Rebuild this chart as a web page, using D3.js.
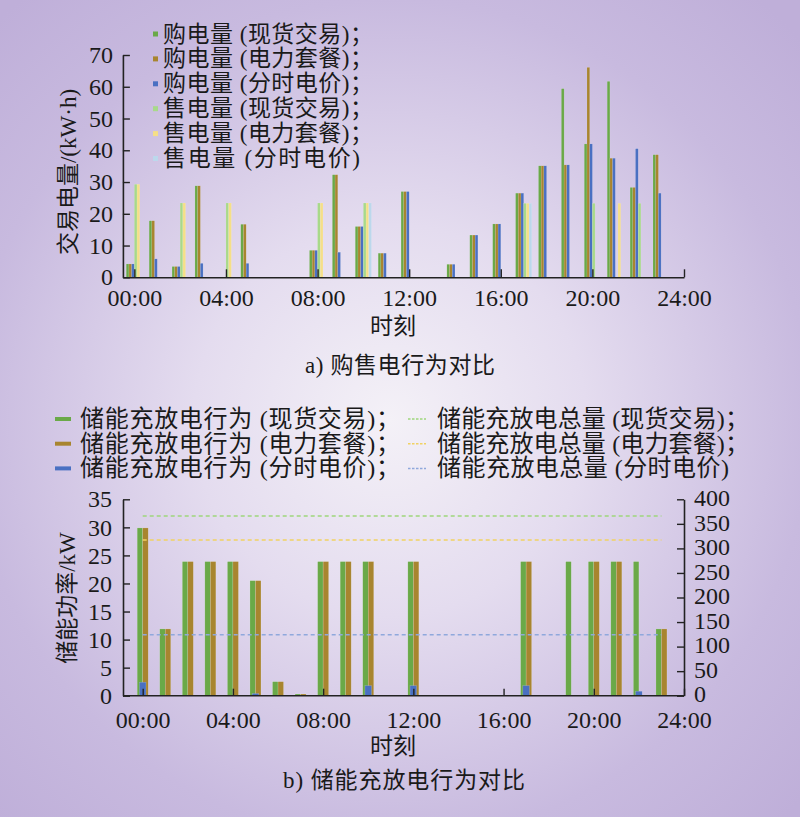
<!DOCTYPE html>
<html><head><meta charset="utf-8">
<script src="https://cdn.jsdelivr.net/npm/d3@7"></script>
<style>body{margin:0;padding:0;overflow:hidden}svg{display:block}</style>
</head><body>
<svg id="c" width="800" height="817"></svg>
<script>
const hours = d3.range(24);
const timeTicks = [0,4,8,12,16,20,24];
const timeLabels = ["00:00","04:00","08:00","12:00","16:00","20:00","24:00"];

// (a) buy / sell energy, kW·h
const buySpot = [4.2,17.8,3.4,28.8,0,16.7,0,0,8.5,32.3,16,7.6,27,0,4.1,13.3,16.8,26.5,35.1,59.4,42,61.7,28.3,38.6];
const buyPkg  = [4.2,17.8,3.4,28.8,0,16.7,0,0,8.5,32.3,16,7.6,27,0,4.1,13.3,16.8,26.5,35.1,35.4,66.1,37.5,28.3,38.6];
const buyTou  = [4.2,5.8,3.4,4.4,0,4.4,0,0,8.5,7.9,16,7.6,27,0,4.1,13.3,16.8,26.5,35.1,35.4,42,37.5,40.5,26.5];
const sellSpot= [29.3,0,23.4,0,23.4,0,0,0,23.4,0,23.4,0,0,0,0,0,0,23.3,0,0,23.3,0,23.3,0];
const sellPkg = [29.3,0,23.4,0,23.4,0,0,0,23.4,0,23.4,0,0,0,0,0,0,23.3,0,0,0,23.3,0,0];
const sellTou = [0,0,0,0,0,0,0,0,0,0,23.4,0,0,0,0,0,0,23.3,0,0,0,0,0,0];
const topNames = ["购电量 (现货交易)；","购电量 (电力套餐)；","购电量 (分时电价)；","售电量 (现货交易)；","售电量 (电力套餐)；","售电量 (分时电价)"];
const topTicks = [0,10,20,30,40,50,60,70];

// (b) storage power, kW, and totals (right axis)
const esSpot = [29.9,11.9,23.9,23.9,23.9,20.5,2.5,0.3,23.9,23.9,23.9,0,23.9,0,0,0,0,23.9,0,23.9,23.9,23.9,23.9,11.9];
const esPkg  = [29.9,11.9,23.9,23.9,23.9,20.5,2.5,0.3,23.9,23.9,23.9,0,23.9,0,0,0,0,23.9,0,0,23.9,23.9,0,11.9];
const esTou  = [2.4,0,0,0,0,0.4,0,0,0,0,1.8,0,1.8,0,0,0,0,1.8,0,0,0,0,0.8,0];
const totalSpot = 366, totalPkg = 317, totalTou = 124;
const botNamesL = ["储能充放电行为 (现货交易)；","储能充放电行为 (电力套餐)；","储能充放电行为 (分时电价)；"];
const botNamesR = ["储能充放电总量 (现货交易)；","储能充放电总量 (电力套餐)；","储能充放电总量 (分时电价)"];
const leftTicks = [0,5,10,15,20,25,30,35];
const rightTicks = [0,50,100,150,200,250,300,350,400];

const C = {green:"#6aa948", brown:"#a8852f", blue:"#4a70c2", lgreen:"#a8d98a", yellow:"#f5df88", lblue:"#bcd8ec",
  dGreen:"#9ed67c", dYellow:"#f1d262", dBlue:"#8fa8dc"};
const FONT = "'Liberation Serif','Noto Sans CJK SC',serif";
const AX = "#222";

const svg = d3.select("#c");
const defs = svg.append("defs");
const rg = defs.append("radialGradient").attr("id","bg").attr("gradientUnits","userSpaceOnUse")
  .attr("cx",390).attr("cy",420).attr("r",560);
rg.append("stop").attr("offset","0").attr("stop-color","#f4f1f7");
rg.append("stop").attr("offset","0.35").attr("stop-color","#e4dcef");
rg.append("stop").attr("offset","0.75").attr("stop-color","#c8badf");
rg.append("stop").attr("offset","1").attr("stop-color","#bfafd9");
svg.append("rect").attr("width",800).attr("height",817).attr("fill","url(#bg)");

function txt(g,x,y,s,size,anchor,len){
  const t = g.append("text").attr("x",x).attr("y",y).attr("font-family",FONT).attr("font-size",size)
    .attr("fill","#1a1a1a").attr("text-anchor",anchor||"start").attr("dominant-baseline","central").text(s);
  if(len) t.attr("textLength",len).attr("lengthAdjust","spacing");
  return t;
}
function styleAxis(g){
  g.select(".domain").attr("stroke",AX).attr("stroke-width",1.6);
  g.selectAll(".tick line").attr("stroke",AX).attr("stroke-width",1.4);
  g.selectAll(".tick text").attr("font-family",FONT).attr("font-size",24).attr("fill","#1a1a1a");
}

// ---------- chart (a) ----------
const gA = svg.append("g");
const xA = d3.scaleLinear().domain([-0.5,24]).range([122.9,684]);
const yA = d3.scaleLinear().domain([0,70]).range([277.3,55]);
const bw = 2.7;
const topSeries = [buySpot,buyPkg,buyTou,sellSpot,sellPkg,sellTou];
const topColors = [C.green,C.brown,C.blue,C.lgreen,C.yellow,C.lblue];
topSeries.forEach((ser,i)=>{
  gA.append("g").selectAll("rect").data(hours.filter(h=>ser[h]>0)).join("rect")
    .attr("x",h=>xA(h)-3*bw+i*bw).attr("width",bw)
    .attr("y",h=>yA(ser[h])).attr("height",h=>yA(0)-yA(ser[h]))
    .attr("fill",topColors[i]).attr("stroke","rgba(255,255,255,0.25)").attr("stroke-width",0.4);
});
const gyA = gA.append("g").attr("transform","translate(122.9,0)")
  .call(d3.axisLeft(yA).tickValues(topTicks).tickSize(-7).tickPadding(10).tickSizeOuter(0));
styleAxis(gyA);
const gxA = gA.append("g").attr("transform",`translate(0,${yA(0)})`)
  .call(d3.axisBottom(xA).tickValues(timeTicks).tickFormat((d,i)=>timeLabels[i]).tickSize(-8).tickPadding(12).tickSizeOuter(0));
styleAxis(gxA);
// legend
topNames.forEach((n,i)=>{
  const y = 34 + i*24.9;
  gA.append("rect").attr("x",153).attr("y",y-2.5).attr("width",5).attr("height",5).attr("fill",topColors[i]);
  txt(gA,163,y,n,23,"start", i<5 ? 210 : 197);
});
txt(gA,0,0,"交易电量/(kW·h)",23,"middle").attr("transform","translate(68,172) rotate(-90)");
txt(gA,393,326,"时刻",23,"middle");
txt(gA,400,365,"a) 购售电行为对比",23,"middle",190);

// ---------- chart (b) ----------
const gB = svg.append("g");
const xB = d3.scaleLinear().domain([0,24]).range([142.7,684]);
const yB = d3.scaleLinear().domain([0,35]).range([695.7,499.3]);
const yB2 = d3.scaleLinear().domain([0,400]).range([695.7,499.3]);
const bars = [[esSpot,C.green,-5.5,5.5],[esPkg,C.brown,0,5.5],[esTou,C.blue,-3.3,6.6]];
bars.forEach(([ser,col,off,w])=>{
  gB.append("g").selectAll("rect").data(hours.filter(h=>ser[h]>0)).join("rect")
    .attr("x",h=>xB(h)+off).attr("width",w)
    .attr("y",h=>yB(ser[h])).attr("height",h=>yB(0)-yB(ser[h]))
    .attr("fill",col).attr("stroke","rgba(255,255,255,0.3)").attr("stroke-width",0.5);
});
[[totalSpot,C.dGreen],[totalPkg,C.dYellow],[totalTou,C.dBlue]].forEach(([v,col])=>{
  const line = d3.line().x(h=>xB(h)).y(()=>yB2(v));
  gB.append("path").attr("d",line(hours)).attr("fill","none").attr("stroke",col)
    .attr("stroke-width",1.6).attr("stroke-dasharray","4,3");
});
const gyB = gB.append("g").attr("transform","translate(123,0)")
  .call(d3.axisLeft(yB).tickValues(leftTicks).tickSize(-7).tickPadding(11).tickSizeOuter(0));
const gyB2 = gB.append("g").attr("transform","translate(684,0)")
  .call(d3.axisRight(yB2).tickValues(rightTicks).tickSize(-7).tickPadding(10).tickSizeOuter(0));
const gxB = gB.append("g").attr("transform",`translate(0,${yB(0)})`)
  .call(d3.axisBottom(xB).tickValues(timeTicks).tickFormat((d,i)=>timeLabels[i]).tickSize(-7).tickPadding(15).tickSizeOuter(0));
gxB.select(".domain").attr("d","M123,0H684");
[gyB,gyB2,gxB].forEach(styleAxis);
gyB2.selectAll(".tick text").attr("dy","0.26em");
// legend
const lcols = [C.green,C.brown,C.blue], dcols = [C.dGreen,C.dYellow,C.dBlue];
botNamesL.forEach((n,i)=>{
  const y = 419 + i*24.7;
  gB.append("line").attr("x1",55).attr("x2",71).attr("y1",y).attr("y2",y).attr("stroke",lcols[i]).attr("stroke-width",4);
  txt(gB,80,y,n,24,"start",320);
});
botNamesR.forEach((n,i)=>{
  const y = 419 + i*24.7;
  gB.append("line").attr("x1",408).attr("x2",426).attr("y1",y).attr("y2",y).attr("stroke",dcols[i]).attr("stroke-width",1.5).attr("stroke-dasharray","2.5,1.5");
  txt(gB,437,y,n,24,"start", i<2 ? 312 : 292);
});
txt(gB,0,0,"储能功率/kW",23,"middle").attr("transform","translate(67,598) rotate(-90)");
txt(gB,393,746,"时刻",23,"middle");
txt(gB,404,780,"b) 储能充放电行为对比",23,"middle",242);
</script>
</body></html>
